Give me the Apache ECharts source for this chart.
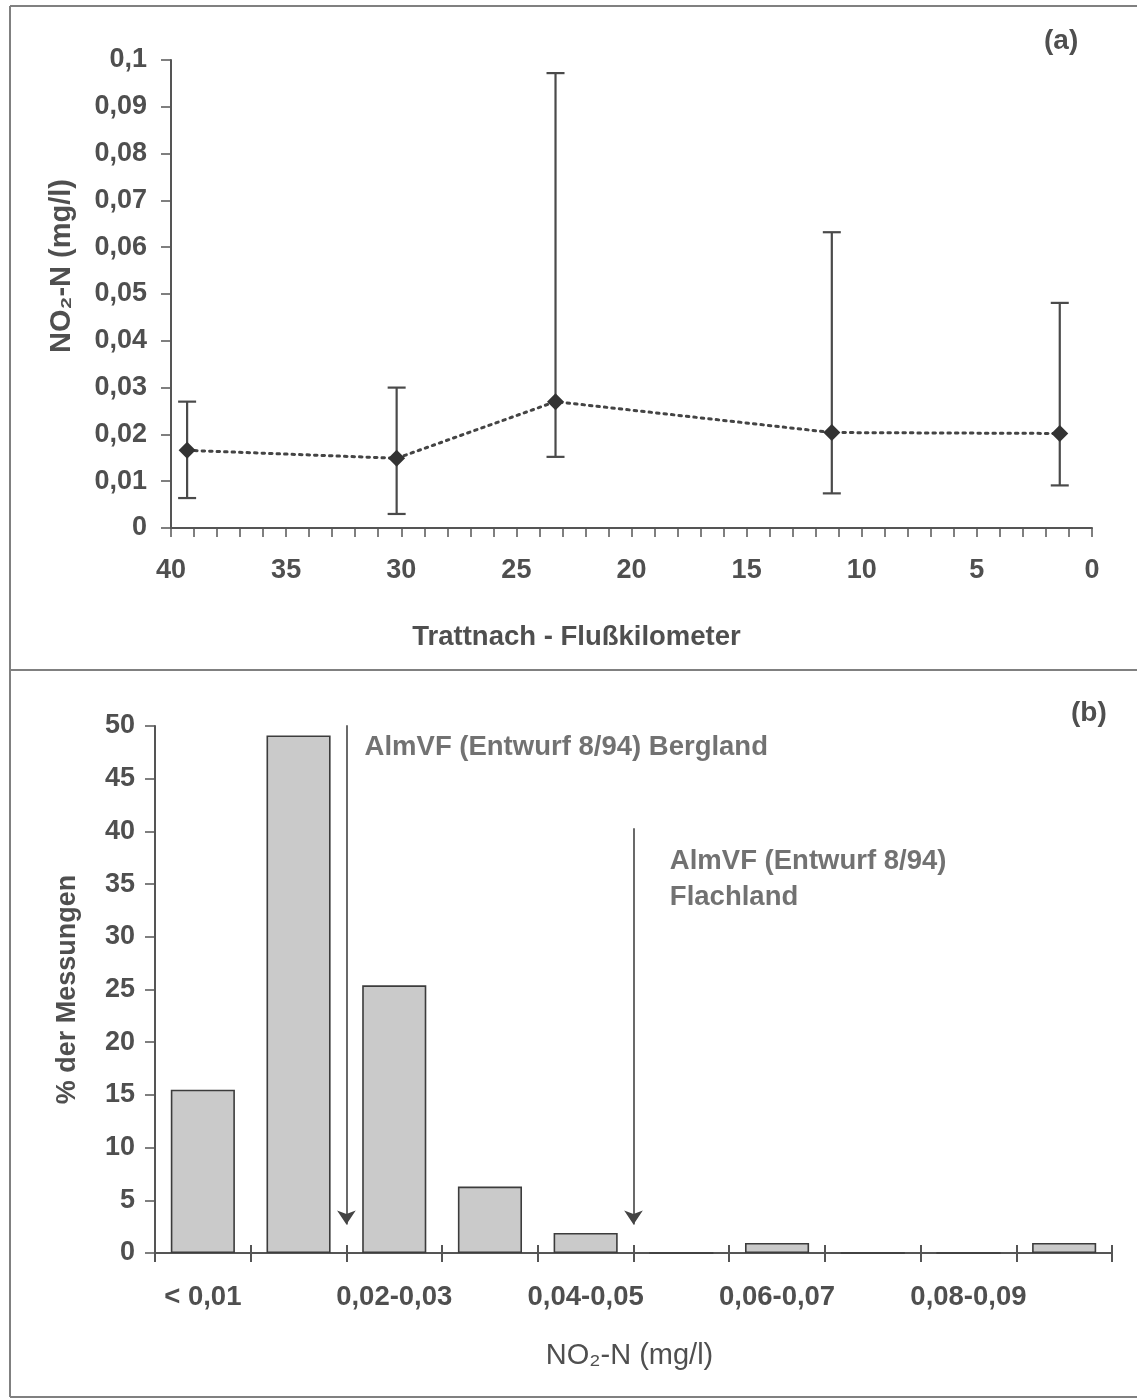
<!DOCTYPE html>
<html>
<head>
<meta charset="utf-8">
<script src="https://cdn.jsdelivr.net/npm/echarts@6/dist/echarts.min.js"></script>
<style>
html,body{margin:0;padding:0;background:#fff;}
#c{width:1137px;height:1399px;}
</style>
</head>
<body>
<div id="c"></div>
<script>
// ---- Panel (a): NO2-N along the Trattnach ----
const kmPositions = [39.3, 30.2, 23.3, 11.3, 1.4];
const meanValues  = [0.0166, 0.0149, 0.0270, 0.0204, 0.0202];
const lowValues   = [0.0064, 0.0030, 0.0152, 0.0074, 0.0091];
const highValues  = [0.0270, 0.0300, 0.0972, 0.0632, 0.0481];

// ---- Panel (b): frequency distribution ----
const classLabels = ['< 0,01','0,01-0,02','0,02-0,03','0,03-0,04','0,04-0,05',
                     '0,05-0,06','0,06-0,07','0,07-0,08','0,08-0,09','> 0,09'];
const percentValues = [15.5, 49.1, 25.4, 6.3, 1.9, 0, 0.95, 0, 0, 0.95];

// limit arrows: [limit value (mg/l), arrow top (%), arrow tip (%)]
const limitBergland  = [0.02, 50.8, 2.7];
const limitFlachland = [0.05, 40.3, 2.7];
const labelBergland  = ['AlmVF (Entwurf 8/94) Bergland'];
const labelFlachland = ['AlmVF (Entwurf 8/94)', 'Flachland'];

const FONT = "'Liberation Sans', Arial, Helvetica, sans-serif";
const TXT = '#4f4f4f';
const AX = '#555555';

function comma(v){ return String(+(+v).toFixed(3)).replace('.', ','); }

const chart = echarts.init(document.getElementById('c'), null, {renderer:'canvas'});

const errData = kmPositions.map((k,i)=>[k, lowValues[i], highValues[i]]);
const lineData = kmPositions.map((k,i)=>[k, meanValues[i]]);

const option = {
  backgroundColor: '#ffffff',
  animation: false,
  textStyle: {fontFamily: FONT},
  grid: [
    {left: 171, right: 45, top: 60, bottom: 871},
    {left: 155, right: 25, top: 726, bottom: 146}
  ],
  xAxis: [
    { // 0: top km axis
      type: 'value', gridIndex: 0, inverse: true, min: 0, max: 40, interval: 5,
      axisLine: {show: true, onZero: false, lineStyle: {color: AX, width: 2}},
      axisTick: {show: true, inside: false, length: 9, lineStyle: {color: AX, width: 1.5}},
      minorTick: {show: true, splitNumber: 5, length: 9, lineStyle: {color: AX, width: 1.5}},
      splitLine: {show: false},
      axisLabel: {color: TXT, fontSize: 27, fontWeight: 'bold', fontFamily: FONT, margin: 29},
      name: 'Trattnach - Flußkilometer', nameLocation: 'middle', nameGap: 95,
      nameTextStyle: {color: TXT, fontSize: 27.5, fontWeight: 'bold', fontFamily: FONT, padding: [0, 110, 0, 0]}
    },
    { // 1: bottom category axis
      type: 'category', gridIndex: 1, data: classLabels, boundaryGap: true,
      axisLine: {show: true, onZero: false, lineStyle: {color: AX, width: 2}},
      axisTick: {show: true, inside: false, length: 9, interval: 0, lineStyle: {color: AX, width: 2}},
      axisLabel: {color: TXT, fontSize: 27.5, fontWeight: 'bold', fontFamily: FONT, interval: 1, margin: 30},
      name: 'NO₂-N (mg/l)', nameLocation: 'middle', nameGap: 88,
      nameTextStyle: {color: TXT, fontSize: 29, fontFamily: FONT, padding: [0, 8, 0, 0]}
    },
    { // 2: inner ticks overlay
      type: 'category', gridIndex: 1, data: classLabels, boundaryGap: true, position: 'bottom',
      axisLine: {show: false},
      axisTick: {show: true, inside: true, length: 8, interval: 0, lineStyle: {color: AX, width: 2}},
      axisLabel: {show: false}
    },
    { // 3: hidden value axis for limit arrows / annotations
      type: 'value', gridIndex: 1, min: 0, max: 0.1, show: false
    }
  ],
  yAxis: [
    {
      type: 'value', gridIndex: 0, min: 0, max: 0.1, interval: 0.01,
      axisLine: {show: true, onZero: false, lineStyle: {color: AX, width: 2}},
      axisTick: {show: true, length: 10, lineStyle: {color: AX, width: 1.5}},
      splitLine: {show: false},
      axisLabel: {color: TXT, fontSize: 27, fontWeight: 'bold', fontFamily: FONT, margin: 24, formatter: comma},
      name: 'NO₂-N (mg/l)', nameLocation: 'middle', nameGap: 95, nameRotate: 90,
      nameTextStyle: {color: TXT, fontSize: 29, fontWeight: 'bold', fontFamily: FONT, padding: [0, 0, 0, 56]}
    },
    {
      type: 'value', gridIndex: 1, min: 0, max: 50, interval: 5,
      axisLine: {show: true, onZero: false, lineStyle: {color: AX, width: 2}},
      axisTick: {show: true, length: 10, lineStyle: {color: AX, width: 1.5}},
      splitLine: {show: false},
      axisLabel: {color: TXT, fontSize: 27, fontWeight: 'bold', fontFamily: FONT, margin: 20},
      name: '% der Messungen', nameLocation: 'middle', nameGap: 74, nameRotate: 90,
      nameTextStyle: {color: TXT, fontSize: 27, fontWeight: 'bold', fontFamily: FONT}
    }
  ],
  series: [
    {
      type: 'custom', xAxisIndex: 0, yAxisIndex: 0, data: errData, z: 3,
      renderItem: function(params, api){
        const x = api.value(0);
        const lo = api.coord([x, api.value(1)]);
        const hi = api.coord([x, api.value(2)]);
        const hw = 9;
        const st = {stroke: '#4a4a4a', lineWidth: 2.2};
        return {type: 'group', children: [
          {type:'line', shape:{x1:lo[0], y1:lo[1], x2:hi[0], y2:hi[1]}, style: st},
          {type:'line', shape:{x1:hi[0]-hw, y1:hi[1], x2:hi[0]+hw, y2:hi[1]}, style: st},
          {type:'line', shape:{x1:lo[0]-hw, y1:lo[1], x2:lo[0]+hw, y2:lo[1]}, style: st}
        ]};
      }
    },
    {
      type: 'line', xAxisIndex: 0, yAxisIndex: 0, data: lineData, z: 4,
      symbol: 'diamond', symbolSize: 17,
      itemStyle: {color: '#333333'},
      lineStyle: {color: '#444444', width: 3, type: [2.5, 5], cap: 'round'}
    },
    {
      type: 'bar', xAxisIndex: 1, yAxisIndex: 1, data: percentValues, barWidth: '67%',
      itemStyle: {color: '#cacaca', borderColor: '#3c3c3c', borderWidth: 1.6}
    },
    {
      type: 'lines', coordinateSystem: 'cartesian2d', xAxisIndex: 3, yAxisIndex: 1, z: 5,
      symbol: ['none', 'arrow'], symbolSize: [9, 14],
      lineStyle: {color: '#444444', width: 1.6, opacity: 1},
      data: [
        {coords: [[limitBergland[0], limitBergland[1]], [limitBergland[0], limitBergland[2]]]},
        {coords: [[limitFlachland[0], limitFlachland[1]], [limitFlachland[0], limitFlachland[2]]]}
      ]
    },
    {
      type: 'scatter', xAxisIndex: 3, yAxisIndex: 1, symbolSize: 0, z: 6,
      data: [
        {value: [0.0219, 48.0], label: {formatter: labelBergland.join('\n')}},
        {value: [0.0538, 35.4], label: {formatter: labelFlachland.join('\n'), lineHeight: 36}}
      ],
      label: {show: true, position: [0, 0], align: 'left', verticalAlign: 'middle',
              color: TXT, fontSize: 27.5, fontWeight: 'bold', fontFamily: FONT},
      silent: true
    }
  ],
  graphic: [
    {type:'line', shape:{x1:10, y1:6, x2:1137, y2:6}, style:{stroke:'#808080', lineWidth:2}},
    {type:'line', shape:{x1:10, y1:6, x2:10, y2:1397}, style:{stroke:'#808080', lineWidth:2}},
    {type:'line', shape:{x1:10, y1:1397, x2:1137, y2:1397}, style:{stroke:'#808080', lineWidth:2}},
    {type:'line', shape:{x1:10, y1:670, x2:1137, y2:670}, style:{stroke:'#808080', lineWidth:2}},
    {type:'text', left: 1044, top: 27, style:{text:'(a)', fill: TXT, font: "bold 28px " + FONT}},
    {type:'text', left: 1071, top: 699, style:{text:'(b)', fill: TXT, font: "bold 28px " + FONT}}
  ]
};
chart.setOption(option);
</script>
</body>
</html>
